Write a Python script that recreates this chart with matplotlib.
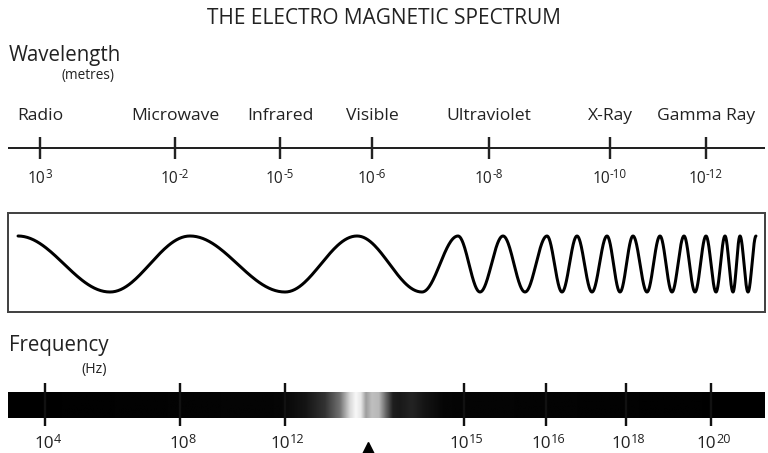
import numpy as np
import matplotlib
matplotlib.use("Agg")
import matplotlib.pyplot as plt
from matplotlib.patches import Rectangle

plt.rcParams['font.family'] = ['Open Sans', 'DejaVu Sans']

# ---------------- data ----------------
title = "THE ELECTRO MAGNETIC SPECTRUM"
bands = ["Radio", "Microwave", "Infrared", "Visible", "Ultraviolet", "X-Ray", "Gamma Ray"]
wavelength_exp = [3, -2, -5, -6, -8, -10, -12]
band_pos = [40, 175, 280, 372, 489, 610, 706]          # schematic position along spectrum

freq_exp = [4, 8, 12, 15, 16, 18, 20]
freq_pos = [45, 180, 285, 464, 546, 626, 711]
visible_marker_pos = 368

# wave extrema (alternating crest / trough)
wave_extrema = [18, 110, 190, 285, 357, 422, 458, 480, 503, 525, 547, 562, 577,
                592, 607, 620, 633, 647, 660, 672, 684, 695, 706, 716, 725, 733,
                740, 748, 756]

# brightness profile of the frequency bar (position, brightness 0=black 1=white)
grad_pos = [8, 280, 305, 325, 340, 350, 356, 361, 366, 372, 379, 386, 393, 400, 412, 425, 445, 765]
grad_val = [0.0, 0.02, 0.08, 0.2, 0.45, 0.85, 0.97, 0.9, 0.62, 0.75, 0.72, 0.4, 0.12, 0.1, 0.14, 0.08, 0.02, 0.0]

# ---------------- figure ----------------
fig = plt.figure(figsize=(7.68, 4.53), dpi=100)
ax = fig.add_axes([0, 0, 1, 1])
ax.set_xlim(0, 768)
ax.set_ylim(453, 0)
ax.axis('off')
px = 0.72  # points per pixel
TXT = '#222222'

ax.text(384, 18, title, ha='center', va='center', fontsize=15, color=TXT)

powers = []


def power_label(x, y, exp, fs, dy):
    base = ax.text(x, y, "10", fontsize=fs, ha='left', va='center', color=TXT)
    sup = ax.text(x, y + dy, str(exp), fontsize=fs * 0.74, ha='left', va='center', color=TXT)
    powers.append((x, base, sup))


# Wavelength section
ax.text(9, 56, "Wavelength", ha='left', va='center', fontsize=14.8, color=TXT)
ax.text(62, 76, "(metres)", ha='left', va='center', fontsize=9.8, color=TXT)

ax.plot([8, 765], [148, 148], color='#222', lw=2 * px, solid_capstyle='butt')
for name, e, x in zip(bands, wavelength_exp, band_pos):
    ax.plot([x, x], [137, 159], color='#222', lw=2.4 * px, solid_capstyle='butt')
    ax.text(x, 116, name, ha='center', va='center', fontsize=12.6, color=TXT)
    power_label(x, 179, e, 11.2, -5)

# Wave box
ax.add_patch(Rectangle((8, 213), 757, 99, fill=False, edgecolor='#444', lw=2 * px))
xs, ys = [], []
center, amp = 264, 28
for k in range(len(wave_extrema) - 1):
    t = np.linspace(0, 1, 60)
    x = wave_extrema[k] + (wave_extrema[k + 1] - wave_extrema[k]) * t
    y = center - amp * np.cos(np.pi * (k + t))
    xs.append(x)
    ys.append(y)
ax.plot(np.concatenate(xs), np.concatenate(ys), color='black', lw=3.0 * px,
        solid_capstyle='round', solid_joinstyle='round')

# Frequency section
ax.text(9, 346, "Frequency", ha='left', va='center', fontsize=14.8, color=TXT)
ax.text(81, 370, "(Hz)", ha='left', va='center', fontsize=10.2, color=TXT)

xx = np.linspace(8, 765, 1500)
bright = np.interp(xx, grad_pos, grad_val)
ax.imshow(bright[None, :], cmap='gray', vmin=0, vmax=1, aspect='auto',
          extent=(8, 765, 418, 392), interpolation='bilinear', zorder=2)
for e, x in zip(freq_exp, freq_pos):
    ax.plot([x, x], [383, 426], color='#111', lw=2.4 * px, solid_capstyle='butt', zorder=3)
    power_label(x + 3, 443.5, e, 12.3, -4)
ax.plot([visible_marker_pos], [448], marker='^', color='black', markersize=9,
        linestyle='none', clip_on=False)

ax.set_xlim(0, 768)
ax.set_ylim(453, 0)

# centre each "10^n" group on its position (1 data unit == 1 pixel in x)
fig.canvas.draw()
renderer = fig.canvas.get_renderer()
for x, base, sup in powers:
    wb = base.get_window_extent(renderer).width
    ws = sup.get_window_extent(renderer).width
    x0 = x - (wb + ws) / 2
    base.set_x(x0)
    sup.set_x(x0 + wb - 0.5)

fig.savefig("out.png", dpi=100)
